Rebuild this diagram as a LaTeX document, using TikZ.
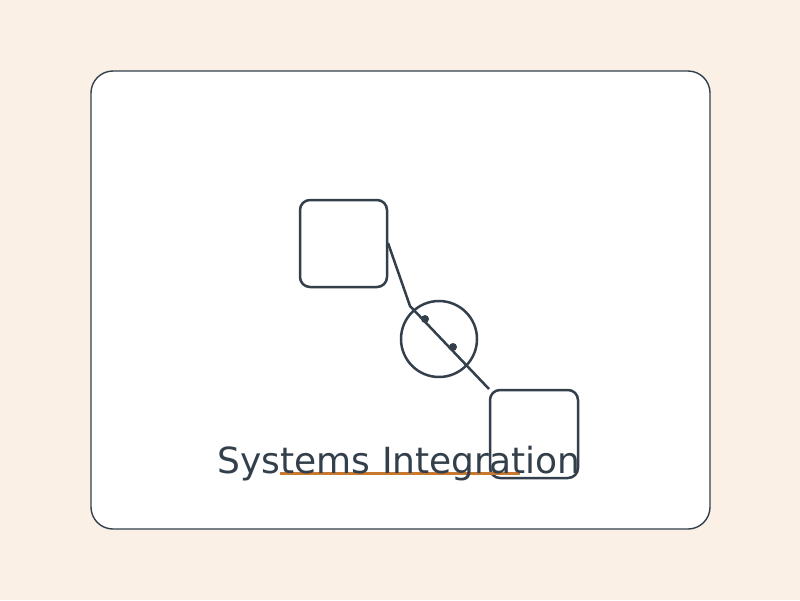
\documentclass[tikz,border=0pt]{standalone}
\usepackage{fontspec}
\setmainfont{DejaVu Sans}
\definecolor{bg}{HTML}{FAF0E6}
\definecolor{ink}{HTML}{333F4A}
\definecolor{accent}{HTML}{C8782F}
\begin{document}
\begin{tikzpicture}[x=1pt,y=-1pt,
  box/.style={draw=ink,line width=2.5pt,rounded corners=10pt},
  link/.style={draw=ink,line width=2.5pt},
  dot/.style={circle,fill=ink,inner sep=0pt,minimum size=8pt}]
\fill[bg] (0,0) rectangle (800,600);
\useasboundingbox (0,0) rectangle (800,600);
\draw[ink,fill=white,line width=1.4pt,rounded corners=22pt] (91,71) rectangle (710,529);
\draw[box] (300,200) rectangle (387,287);
\draw[box] (490,390) rectangle (578,478);
\coordinate (a) at (388,243);
\coordinate (b) at (410,306);
\coordinate (c) at (489,389);
\node[circle,draw=ink,line width=2.5pt,minimum size=76pt,inner sep=0pt] (hub) at (439,339) {};
\draw[link] (a) -- (b) -- (c);
\node[dot] (d1) at (425,319) {};
\node[dot] (d2) at (453,347) {};
\draw[accent,line width=3pt] (280,473.5) -- (520,473.5);
\node[text=ink,font=\fontsize{36}{42}\selectfont,anchor=base,inner sep=0pt] (title) at (399,473.5) {Systems Integration};
\end{tikzpicture}
\end{document}
